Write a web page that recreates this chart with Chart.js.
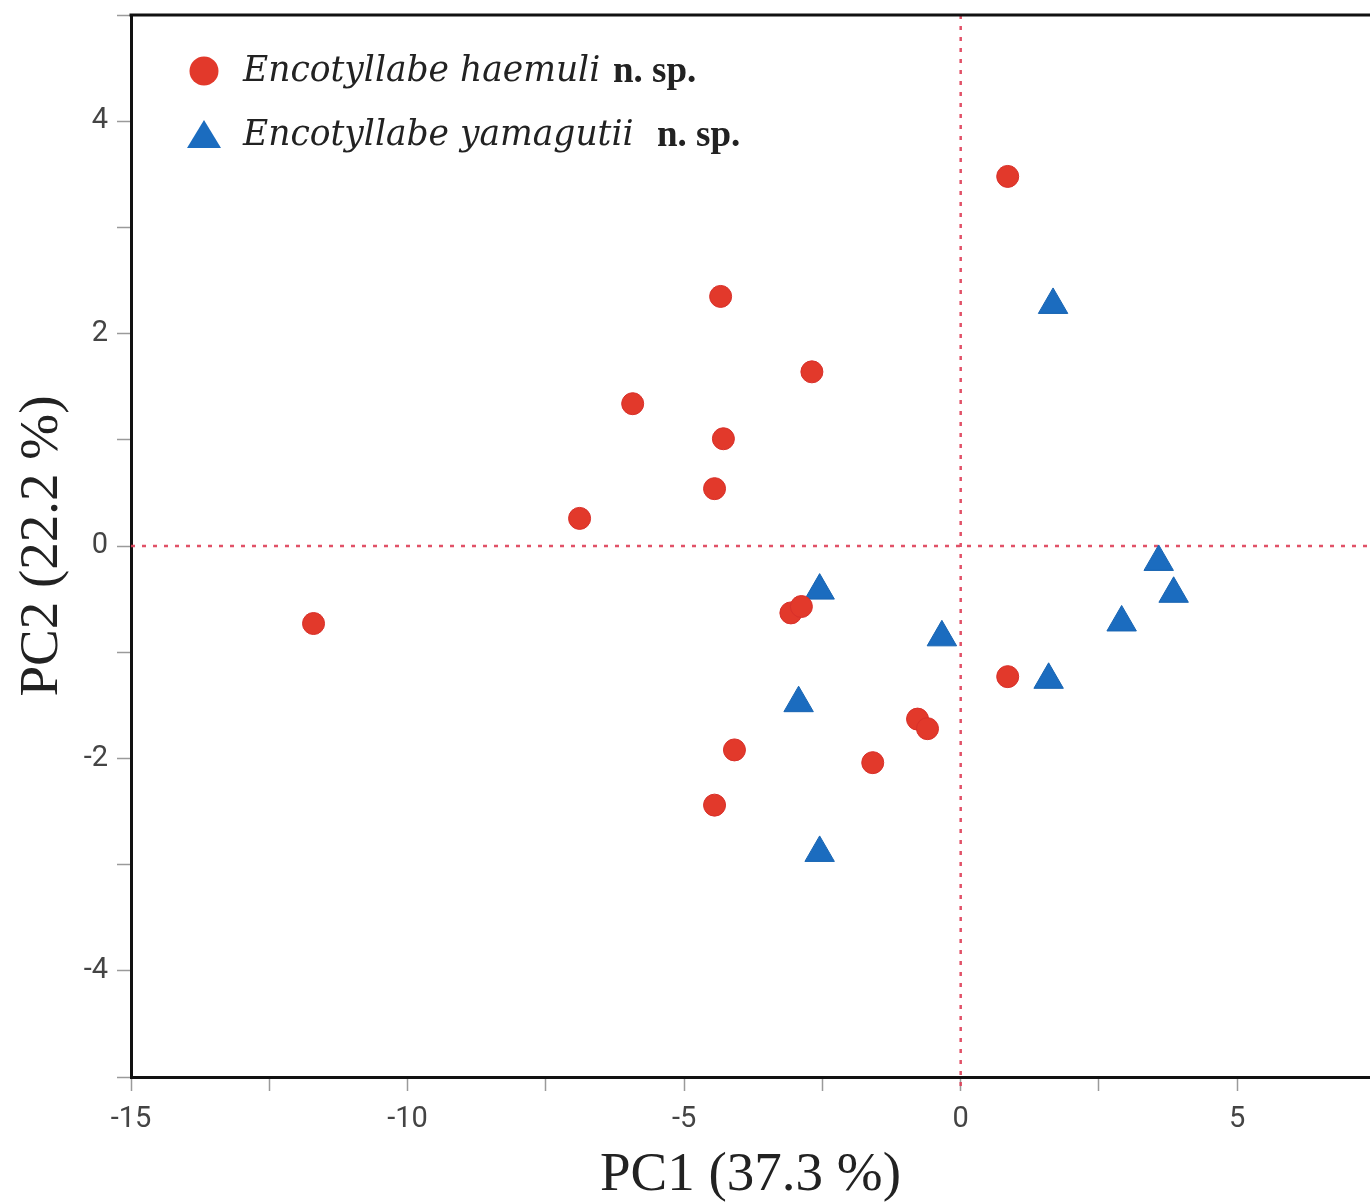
<!DOCTYPE html>
<html>
<head>
<meta charset="utf-8">
<script src="https://cdn.jsdelivr.net/npm/chart.js@4.4.0/dist/chart.umd.min.js"></script>
<style>
  html, body { margin: 0; padding: 0; background: #fff; }
  #wrap { width: 1370px; height: 1203px; position: relative; }
</style>
</head>
<body>
<div id="wrap"><canvas id="pca"></canvas></div>
<script>
// PC scores
const haemuliX = [0.85, -4.34, -2.69, -5.93, -4.29, -4.45, -6.89, -11.70, -3.07, -2.88, 0.85, -0.78, -0.60, -4.09, -1.59, -4.45];
const haemuliY = [3.48, 2.35, 1.64, 1.34, 1.01, 0.54, 0.26, -0.73, -0.63, -0.57, -1.23, -1.63, -1.72, -1.92, -2.04, -2.44];

const yamagutiiX = [1.67, -2.55, -0.34, 3.58, 3.85, 2.91, 1.59, -2.93, -2.55];
const yamagutiiY = [2.27, -0.42, -0.86, -0.15, -0.45, -0.72, -1.26, -1.48, -2.89];

const seriesNames = ['Encotyllabe haemuli', 'Encotyllabe yamagutii'];
const seriesSuffix = 'n. sp.';
const xTitle = 'PC1 (37.3 %)';
const yTitle = 'PC2 (22.2 %)';

const RED = '#e2392b';
const BLUE = '#1b6cbf';

function toPoints(xs, ys) {
  return xs.map((x, i) => ({ x: x, y: ys[i] }));
}

// dotted lines through the origin + top frame line
const zeroLines = {
  id: 'zeroLines',
  beforeDatasetsDraw(chart) {
    const { ctx, chartArea: a, scales } = chart;
    const x0 = scales.x.getPixelForValue(0);
    const y0 = scales.y.getPixelForValue(0);
    ctx.save();
    ctx.strokeStyle = 'rgba(222,62,86,0.9)';
    ctx.lineWidth = 2.5;
    ctx.setLineDash([4, 7]);
    ctx.beginPath();
    ctx.moveTo(x0, a.top);
    ctx.lineTo(x0, a.bottom + 14);
    ctx.moveTo(a.left, y0);
    ctx.lineTo(a.right, y0);
    ctx.stroke();
    ctx.restore();
  },
  afterDraw(chart) {
    const { ctx, chartArea: a } = chart;
    ctx.save();
    ctx.strokeStyle = '#111';
    ctx.lineWidth = 3;
    ctx.beginPath();
    ctx.moveTo(a.left - 1.5, a.top);
    ctx.lineTo(a.right, a.top);
    ctx.stroke();
    ctx.restore();
  }
};

// legend: italic genus/species + bold "n. sp."
const speciesLegend = {
  id: 'speciesLegend',
  afterDraw(chart) {
    const { ctx, chartArea: a } = chart;
    const rows = [a.top + 56, a.top + 120];
    const boldX = [482, 526];
    ctx.save();
    chart.data.datasets.forEach((ds, i) => {
      const cy = rows[i];
      const cx = a.left + 73;
      ctx.fillStyle = ds.backgroundColor;
      ctx.beginPath();
      if (ds.pointStyle === 'triangle') {
        ctx.moveTo(cx, cy - 15);
        ctx.lineTo(cx + 17, cy + 13);
        ctx.lineTo(cx - 17, cy + 13);
        ctx.closePath();
      } else {
        ctx.arc(cx, cy, 14.5, 0, Math.PI * 2);
      }
      ctx.fill();

      ctx.fillStyle = '#222';
      ctx.textBaseline = 'middle';
      ctx.font = 'italic 34.5px "DejaVu Serif"';
      ctx.fillText(seriesNames[i], a.left + 112, cy + 1);
      ctx.font = 'bold 37px "Liberation Serif"';
      ctx.fillText(seriesSuffix, a.left + boldX[i], cy + 1);
    });
    ctx.restore();
  }
};

new Chart(document.getElementById('pca'), {
  type: 'scatter',
  data: {
    datasets: [
      {
        label: seriesNames[0],
        data: toPoints(haemuliX, haemuliY),
        pointStyle: 'circle',
        pointRadius: 11,
        backgroundColor: RED,
        borderColor: '#d8302a',
        borderWidth: 1
      },
      {
        label: seriesNames[1],
        data: toPoints(yamagutiiX, yamagutiiY),
        pointStyle: 'triangle',
        pointRadius: 17,
        backgroundColor: BLUE,
        borderColor: '#1764b2',
        borderWidth: 1
      }
    ]
  },
  options: {
    responsive: true,
    maintainAspectRatio: false,
    animation: false,
    layout: { autoPadding: false, padding: { top: 15, left: 0, right: 0, bottom: 0 } },
    plugins: {
      legend: { display: false },
      tooltip: { enabled: false }
    },
    scales: {
      x: {
        type: 'linear',
        min: -15,
        max: 7.4,
        afterFit(s) {
          s.height = 126;
          s.paddingLeft = 0;
          s.paddingRight = 0;
        },
        ticks: {
          stepSize: 2.5,
          includeBounds: false,
          autoSkip: false,
          maxRotation: 0,
          padding: 11,
          color: '#444',
          font: { family: 'Roboto', size: 29 },
          callback: v => Math.abs(v % 5) < 1e-9 ? String(v) : ''
        },
        grid: {
          drawOnChartArea: false,
          drawTicks: true,
          tickLength: 14,
          tickColor: '#9a9a9a',
          tickWidth: 1.5
        },
        border: { display: true, color: '#111', width: 3 },
        title: {
          display: true,
          text: xTitle,
          color: '#222',
          font: { family: '"Liberation Serif"', size: 55, lineHeight: 1 },
          padding: { top: 0, bottom: 0 }
        }
      },
      y: {
        type: 'linear',
        min: -5,
        max: 5,
        afterFit(s) {
          s.width = 131;
          s.paddingTop = 0;
          s.paddingBottom = 0;
        },
        ticks: {
          stepSize: 1,
          autoSkip: false,
          padding: 9,
          color: '#444',
          font: { family: 'Roboto', size: 29 },
          callback: v => v % 2 === 0 ? String(v) : ''
        },
        grid: {
          drawOnChartArea: false,
          drawTicks: true,
          tickLength: 14,
          tickColor: '#9a9a9a',
          tickWidth: 1.5
        },
        border: { display: true, color: '#111', width: 3 },
        title: {
          display: true,
          text: yTitle,
          color: '#222',
          font: { family: '"Liberation Serif"', size: 55, lineHeight: 1 },
          padding: { top: 15, bottom: 0 }
        }
      }
    }
  },
  plugins: [zeroLines, speciesLegend]
});
</script>
</body>
</html>
